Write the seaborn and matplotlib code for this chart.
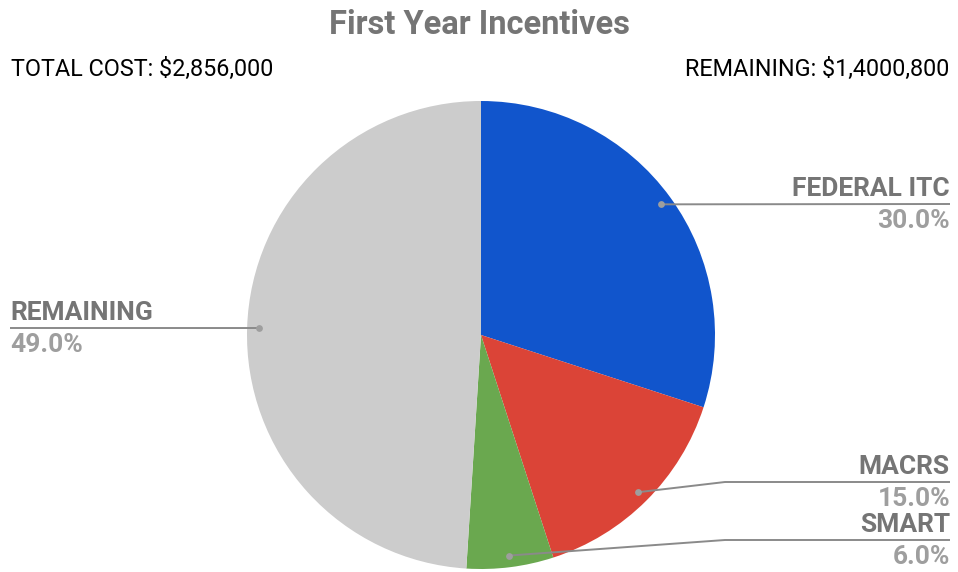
import numpy as np
import matplotlib
matplotlib.use("Agg")
import matplotlib.pyplot as plt
import seaborn as sns

# Data
categories = ["FEDERAL ITC", "MACRS", "SMART", "REMAINING"]
shares = [30.0, 15.0, 6.0, 49.0]
colors = ["#1155CC", "#DB4437", "#6AA84F", "#CCCCCC"]
title = "First Year Incentives"
total_note = "TOTAL COST: $2,856,000"
remaining_note = "REMAINING: $1,4000,800"

sns.set_theme(style="white")
plt.rcParams["font.family"] = ["Roboto", "DejaVu Sans"]

W, H = 958, 572
fig = plt.figure(figsize=(W / 100, H / 100), dpi=100)
ax = fig.add_axes([0, 0, 1, 1])

cx, cy, R = 481, H - 335, 234
ax.pie(shares, colors=colors, startangle=90, counterclock=False,
       center=(cx, cy), radius=R, frame=True,
       wedgeprops=dict(linewidth=0))
ax.set_xlim(0, W)
ax.set_ylim(0, H)
ax.set_aspect("equal")
ax.axis("off")

title_grey = "#757575"
pct_grey = "#9E9E9E"
line_grey = "#8A8A8A"

ax.text(W / 2 + 1, H - 34, title, ha="center", va="baseline", fontsize=23.5,
        fontweight="bold", color=title_grey)
ax.text(11, H - 76, total_note, ha="left", va="baseline", fontsize=16.8, color="black")
ax.text(949, H - 76, remaining_note, ha="right", va="baseline", fontsize=16.8, color="black")

# leader layout: (line height in px from top, elbow x or None, side)
layout = {
    "FEDERAL ITC": (204, None, "right"),
    "MACRS": (482, 725, "right"),
    "SMART": (540, 725, "right"),
    "REMAINING": (328, None, "left"),
}

cum = 0.0
total = sum(shares)
for name, val in zip(categories, shares):
    mid = (cum + val / 2) / total * 360.0
    cum += val
    ang = np.deg2rad(90 - mid)
    dx, dy = cx + 0.95 * R * np.cos(ang), cy + 0.95 * R * np.sin(ang)
    ly, elbow, side = layout[name]
    ly = H - ly
    if side == "right":
        xs = [dx] + ([elbow] if elbow else []) + [950]
        ys = [dy] + ([ly] if elbow else []) + [ly]
        tx, ha = 950, "right"
    else:
        xs, ys = [dx, 10], [dy, ly]
        tx, ha = 10, "left"
    ax.plot(xs, ys, color=line_grey, lw=1.4, solid_capstyle="butt", zorder=3)
    ax.scatter([dx], [dy], s=24, color="#9E9E9E", zorder=4, linewidths=0)
    ax.text(tx, ly + 8, name, ha=ha, va="baseline", fontsize=19,
            fontweight="bold", color=title_grey)
    ax.text(tx, ly - 24, f"{val:.1f}%", ha=ha, va="baseline", fontsize=19,
            fontweight="bold", color=pct_grey)

fig.savefig("out.png", dpi=100)
